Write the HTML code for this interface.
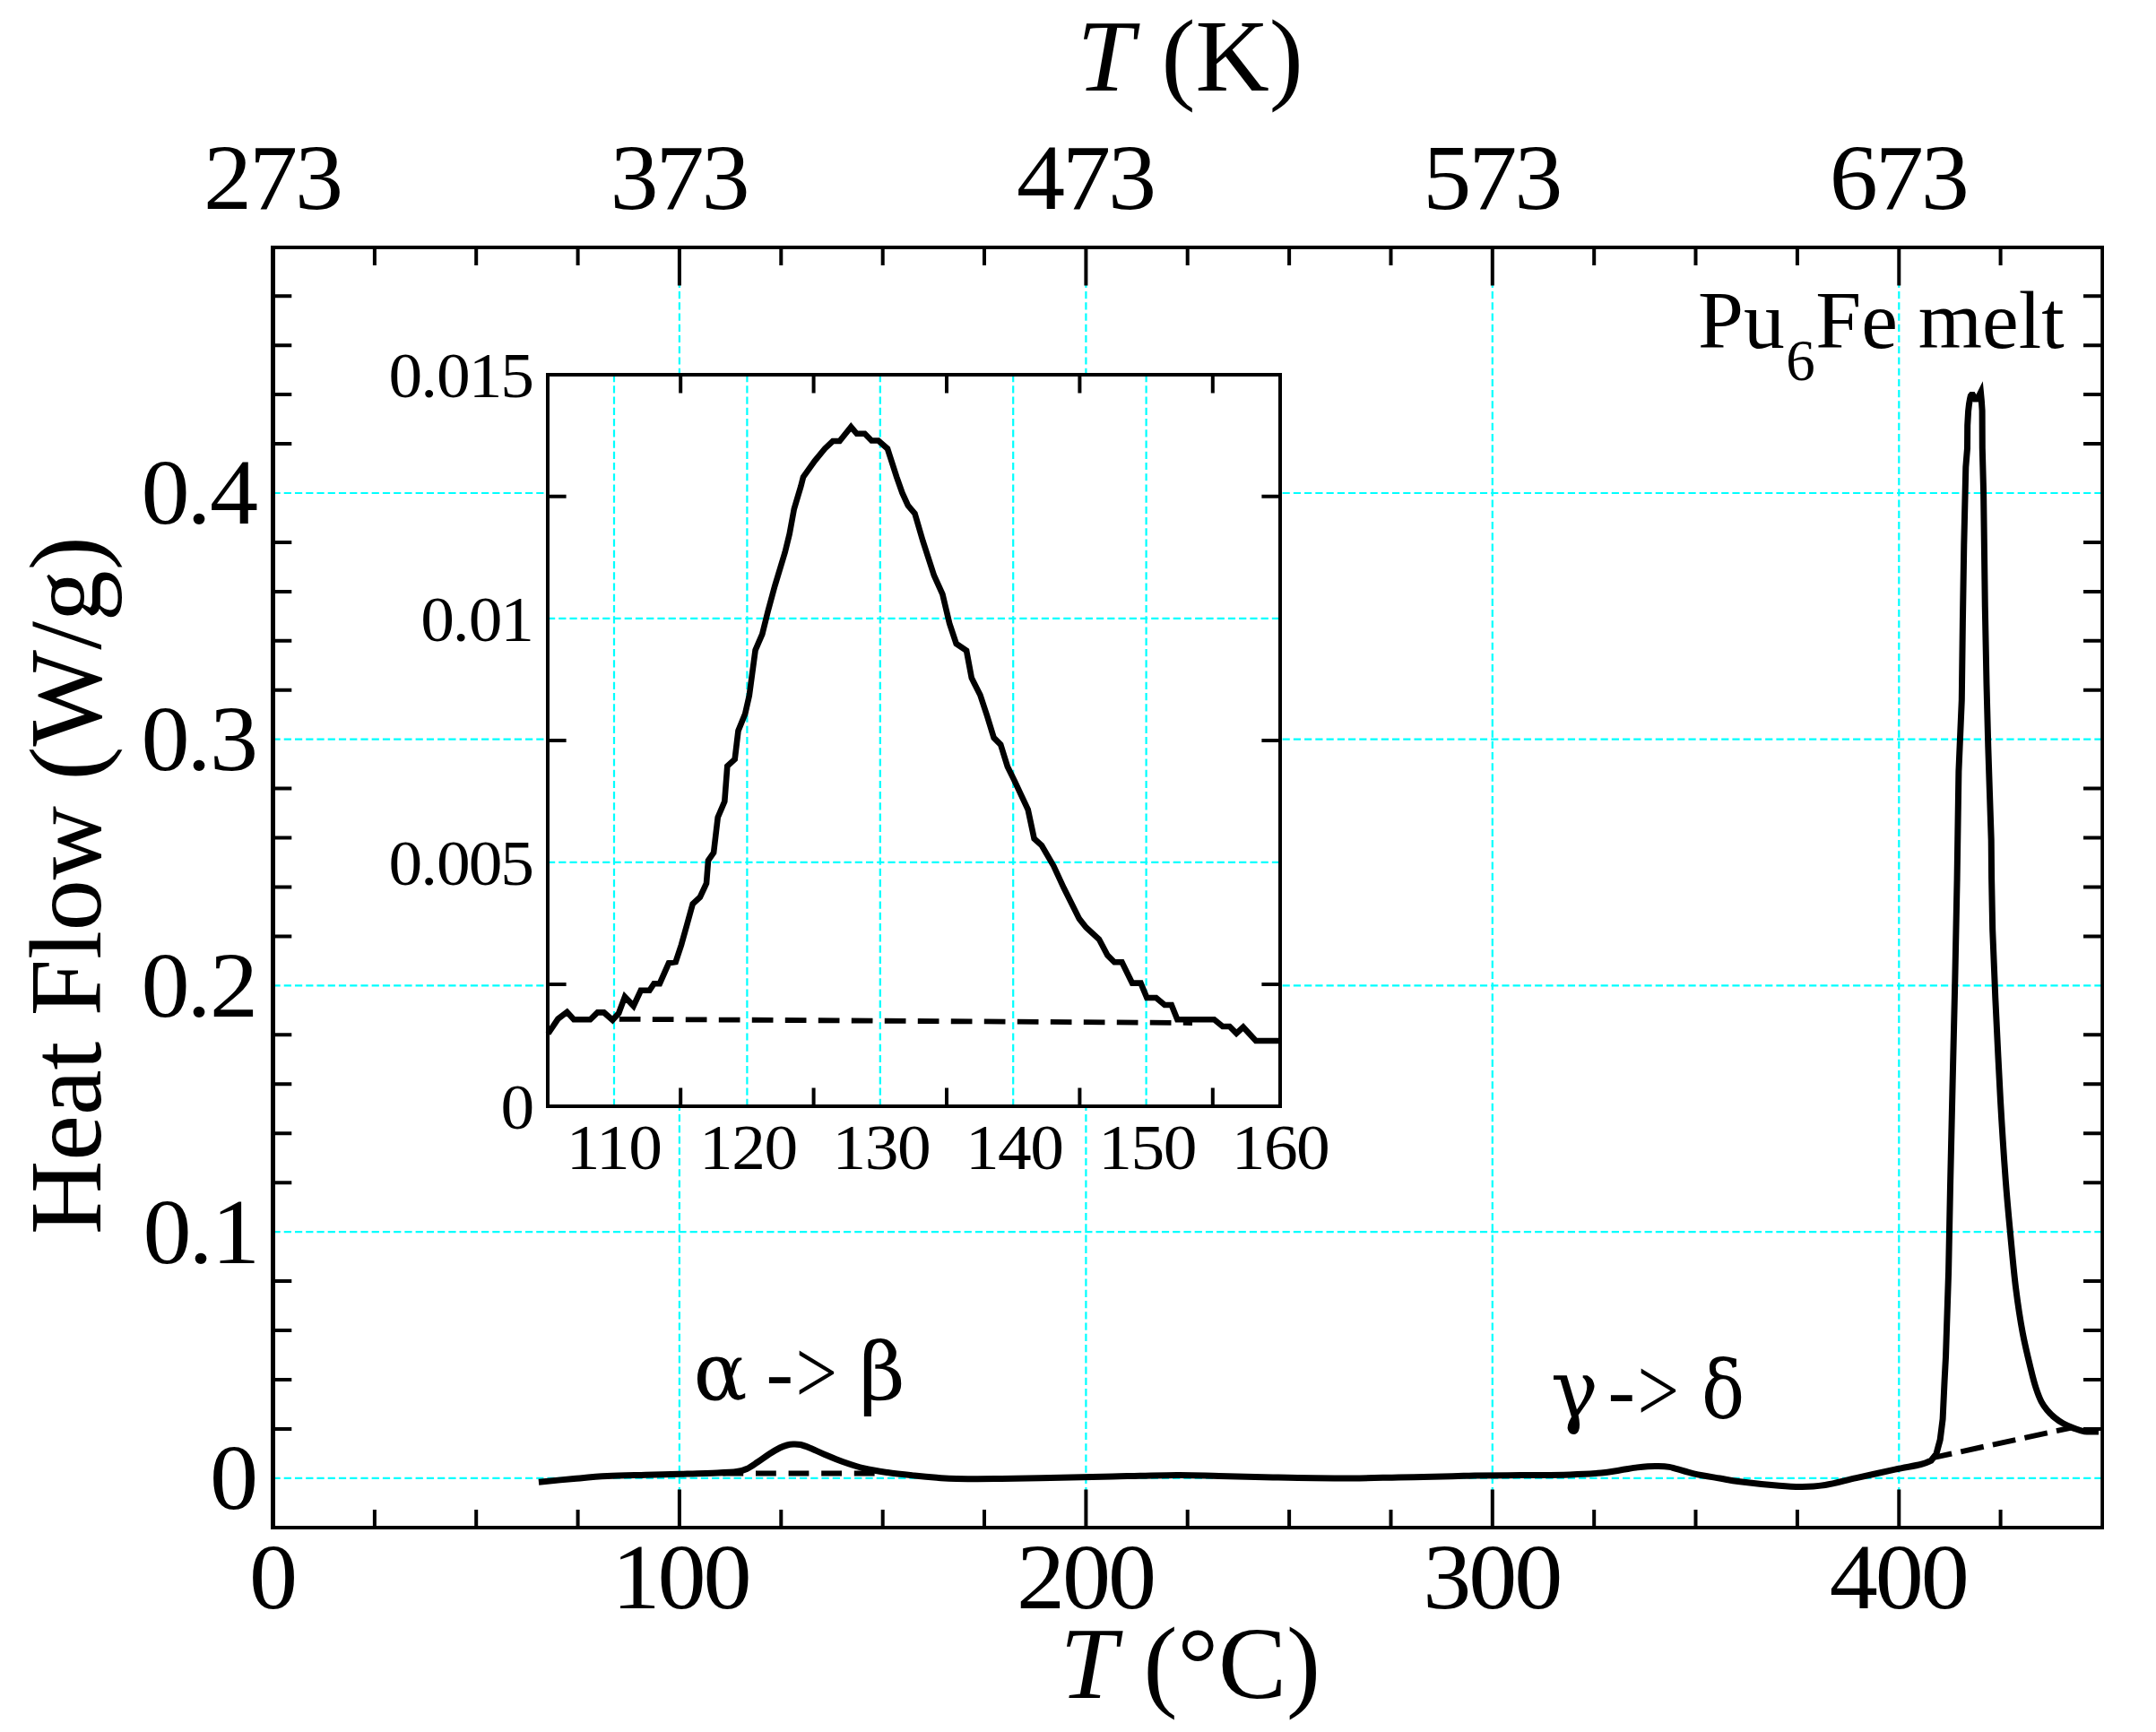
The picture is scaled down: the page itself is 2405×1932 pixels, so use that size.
<!DOCTYPE html>
<html lang="en"><head><meta charset="utf-8"><title>Heat Flow vs Temperature</title>
<style>
html,body{margin:0;padding:0;background:#fff;}
body{width:2405px;height:1932px;overflow:hidden;}
svg{display:block;}
text{font-family:"Liberation Serif","DejaVu Serif",serif;fill:#000;}
.tk{font-size:101px;}
.ax{font-size:114px;}
.in{font-size:71px;}
.an{font-size:91.6px;}
.gk{font-family:"DejaVu Serif","Liberation Serif",serif;font-size:89px;}
.g{stroke:#00ffff;stroke-width:2.2;stroke-dasharray:8.2 4.04;fill:none;}
.t{stroke:#000;stroke-width:4;fill:none;}
.f{stroke:#000;stroke-width:4.5;fill:none;}
.c{stroke:#000;fill:none;stroke-linejoin:miter;stroke-miterlimit:6;}
</style></head><body>
<svg width="2405" height="1932" viewBox="0 0 2405 1932">
<rect x="0" y="0" width="2405" height="1932" fill="#fff"/>
<path class="g" d="M757.9 276 V1704 M1211.4 276 V1704 M1664.8 276 V1704 M2118.3 276 V1704 M304.5 1648.8 H2345 M304.5 1374.1 H2345 M304.5 1099.4 H2345 M304.5 824.7 H2345 M304.5 550 H2345"/>
<path class="t" d="M417.9 1704 v-20 M417.9 276 v20 M531.2 1704 v-20 M531.2 276 v20 M644.6 1704 v-20 M644.6 276 v20 M757.9 1704 v-42.5 M757.9 276 v42.5 M871.3 1704 v-20 M871.3 276 v20 M984.7 1704 v-20 M984.7 276 v20 M1098 1704 v-20 M1098 276 v20 M1211.4 1704 v-42.5 M1211.4 276 v42.5 M1324.7 1704 v-20 M1324.7 276 v20 M1438.1 1704 v-20 M1438.1 276 v20 M1551.5 1704 v-20 M1551.5 276 v20 M1664.8 1704 v-42.5 M1664.8 276 v42.5 M1778.2 1704 v-20 M1778.2 276 v20 M1891.5 1704 v-20 M1891.5 276 v20 M2004.9 1704 v-20 M2004.9 276 v20 M2118.3 1704 v-42.5 M2118.3 276 v42.5 M2231.6 1704 v-20 M2231.6 276 v20 M304.5 1593.9 h20.8 M2345 1593.9 h-21 M304.5 1538.9 h20.8 M2345 1538.9 h-21 M304.5 1484 h20.8 M2345 1484 h-21 M304.5 1429 h20.8 M2345 1429 h-21 M304.5 1319.2 h20.8 M2345 1319.2 h-21 M304.5 1264.2 h20.8 M2345 1264.2 h-21 M304.5 1209.3 h20.8 M2345 1209.3 h-21 M304.5 1154.3 h20.8 M2345 1154.3 h-21 M304.5 1044.5 h20.8 M2345 1044.5 h-21 M304.5 989.5 h20.8 M2345 989.5 h-21 M304.5 934.6 h20.8 M2345 934.6 h-21 M304.5 879.6 h20.8 M2345 879.6 h-21 M304.5 769.8 h20.8 M2345 769.8 h-21 M304.5 714.8 h20.8 M2345 714.8 h-21 M304.5 659.9 h20.8 M2345 659.9 h-21 M304.5 604.9 h20.8 M2345 604.9 h-21 M304.5 495.1 h20.8 M2345 495.1 h-21 M304.5 440.1 h20.8 M2345 440.1 h-21 M304.5 385.2 h20.8 M2345 385.2 h-21 M304.5 330.2 h20.8 M2345 330.2 h-21"/>
<path class="c" stroke-width="7" d="M600.9 1653.2 C607.42 1652.58 627.25 1650.6 640 1649.5 C652.75 1648.4 664.07 1647.3 677.4 1646.6 C690.73 1645.9 706.57 1645.68 720 1645.3 C733.43 1644.92 744.67 1644.68 758 1644.3 C771.33 1643.92 789.33 1643.47 800 1643 C810.67 1642.53 816.5 1642.25 822 1641.5 C827.5 1640.75 829.17 1640.25 833 1638.5 C836.83 1636.75 840.83 1633.75 845 1631 C849.17 1628.25 853.83 1624.67 858 1622 C862.17 1619.33 866.67 1616.67 870 1615 C873.33 1613.33 875.53 1612.67 878 1612 C880.47 1611.33 882.3 1611.08 884.8 1611 C887.3 1610.92 889.97 1610.83 893 1611.5 C896.03 1612.17 898.5 1613.17 903 1615 C907.5 1616.83 913.83 1619.92 920 1622.5 C926.17 1625.08 932.67 1627.92 940 1630.5 C947.33 1633.08 955.67 1636 964 1638 C972.33 1640 980.67 1641.17 990 1642.5 C999.33 1643.83 1010.83 1645.03 1020 1646 C1029.17 1646.97 1037.17 1647.7 1045 1648.3 C1052.83 1648.9 1056.17 1649.38 1067 1649.6 C1077.83 1649.82 1094.5 1649.75 1110 1649.6 C1125.5 1649.45 1140 1649.1 1160 1648.7 C1180 1648.3 1204.5 1647.75 1230 1647.2 C1255.5 1646.65 1291.33 1645.52 1313 1645.4 C1334.67 1645.28 1342.17 1646.07 1360 1646.5 C1377.83 1646.93 1397.67 1647.58 1420 1648 C1442.33 1648.42 1470.67 1649 1494 1649 C1517.33 1649 1539 1648.37 1560 1648 C1581 1647.63 1605.83 1647.13 1620 1646.8 C1634.17 1646.47 1632.38 1646.2 1645 1646 C1657.62 1645.8 1677.98 1645.78 1695.7 1645.6 C1713.42 1645.42 1736.23 1645.32 1751.3 1644.9 C1766.37 1644.48 1776.82 1643.92 1786.1 1643.1 C1795.38 1642.28 1800.28 1641.03 1807 1640 C1813.72 1638.97 1821.23 1637.62 1826.4 1636.9 C1831.57 1636.18 1834.07 1635.93 1838 1635.7 C1841.93 1635.47 1846 1635.38 1850 1635.5 C1854 1635.62 1858.73 1635.93 1862 1636.4 C1865.27 1636.87 1864.85 1637.02 1869.6 1638.3 C1874.35 1639.58 1882.38 1642.32 1890.5 1644.1 C1898.62 1645.88 1909.88 1647.57 1918.3 1649 C1926.72 1650.43 1929.97 1651.32 1941 1652.7 C1952.03 1654.08 1972.93 1656.33 1984.5 1657.3 C1996.07 1658.27 2001.82 1658.63 2010.4 1658.5 C2018.98 1658.37 2025.95 1658.13 2036 1656.5 C2046.05 1654.87 2057.72 1651.58 2070.7 1648.7 C2083.68 1645.82 2101.92 1641.73 2113.9 1639.2 C2125.88 1636.67 2135.9 1635.17 2142.6 1633.5 C2149.3 1631.83 2152.18 1629.92 2154.1 1629.2 L2159.9 1622 L2164.2 1606 L2167.1 1583 L2169.1 1540 L2170.5 1513.7 L2173.6 1418.4 L2175.5 1323.1 L2178.1 1208.7 L2180.8 1094.4 L2183.1 980 L2184.9 860.7 L2188.3 781 L2189.4 694.4 L2190.8 607.8 L2192.8 521.2 L2194.5 500 L2194.7 474.5 L2195.6 458.6 L2196.5 450.8 L2197.5 445 L2198.3 441.6 L2199.2 440.5 L2200.6 440.5 L2203.2 444.9 L2206 444.9 L2209.5 437.8 L2210.3 446 L2211.1 458 L2211.3 500 L2212.6 549 L2214.3 677.1 L2216 763.7 L2217.8 833 L2219.5 885 L2221.2 936.9 L2221.6 980 L2222.7 1037.2 L2225.8 1113.4 C2226.75 1132.47 2229.6 1194.12 2231.5 1227.8 C2233.4 1261.48 2235.3 1290.08 2237.2 1315.5 C2239.1 1340.92 2240.98 1359.98 2242.9 1380.3 C2244.82 1400.62 2246.47 1419.62 2248.7 1437.4 C2250.93 1455.18 2253.45 1471.75 2256.3 1487 C2259.15 1502.25 2263.35 1518.73 2265.8 1528.9 C2268.25 1539.07 2269.12 1542.23 2271 1548 C2272.88 1553.77 2275 1559.33 2277.1 1563.5 C2279.2 1567.67 2281.13 1570.03 2283.6 1573 C2286.07 1575.97 2288.93 1578.83 2291.9 1581.3 C2294.87 1583.77 2297.85 1585.83 2301.4 1587.8 C2304.95 1589.77 2309.27 1591.62 2313.2 1593.1 C2317.13 1594.58 2320.37 1596.07 2325 1596.7 C2329.63 1597.33 2338.33 1596.87 2341 1596.9"/>
<path class="c" stroke-width="6.2" stroke-dasharray="22.8 13.8" d="M806.4 1643.5 L976 1643.5"/>
<path class="c" stroke-width="6" stroke-dasharray="26 10.4" stroke-dashoffset="5.4" d="M2157 1625.9 L2312 1592.2"/>
<path stroke="#000" fill="none" stroke-width="4" d="M302 276 H2347 M302 1704 H2347"/>
<path stroke="#000" fill="none" stroke-width="5" d="M304.5 274 V1706"/>
<path stroke="#000" fill="none" stroke-width="3.8" d="M2345.1 274 V1706"/>
<rect x="611" y="418" width="817" height="816" fill="#fff"/>
<path class="g" d="M685 418 V1234 M833.4 418 V1234 M981.8 418 V1234 M1130.2 418 V1234 M1278.6 418 V1234 M611 961.9 H1428 M611 689.8 H1428"/>
<path class="t" d="M759.2 1234 v-20.6 M759.2 418 v20.6 M907.6 1234 v-20.6 M907.6 418 v20.6 M1056 1234 v-20.6 M1056 418 v20.6 M1204.4 1234 v-20.6 M1204.4 418 v20.6 M1352.8 1234 v-20.6 M1352.8 418 v20.6 M611 1098 h20.6 M1428 1098 h-20.6 M611 825.9 h20.6 M1428 825.9 h-20.6 M611 553.8 h20.6 M1428 553.8 h-20.6"/>
<path class="c" stroke-width="6.6" d="M611.4 1153 L622.4 1136.6 L632.5 1128.9 L640.1 1137.3 L658.4 1137.3 L666.5 1129.4 L673.7 1129.4 L683.3 1137.8 L690.2 1130.2 L697 1111.9 L706.7 1122.1 L714.8 1104.8 L724.5 1104.8 L729.5 1097.2 L735.9 1097.2 L746 1074.3 L753.7 1073 L760 1054 L766.4 1031.1 L772.7 1008.3 L780.9 1000.7 L788 985.4 L790 960 L796.1 951.1 L800.7 911.8 L808.3 894 L811.3 854.6 L819.7 847 L823.5 815.2 L831.2 796.3 L835.8 776 L842.6 725.2 L850.3 707.4 L856.6 682 L864.2 654 L875.7 616 L880.7 595.6 L885.8 567.7 L893.4 542.3 L896 532.1 L908.7 514.3 L920.1 500.4 L929 492 L936.6 492 L949.3 476.2 L955.7 483.8 L964.6 483.8 L972.2 491.5 L979.8 491.5 L990 500.4 L1000.2 532.1 L1006.5 549.9 L1012.9 563.9 L1020.5 572.8 L1029.4 603.3 L1041.9 641.9 L1051.4 662.9 L1059.1 695.3 L1066.7 718.1 L1078.1 725.8 L1083.8 756.3 L1093.4 775.3 L1101 798.2 L1108.6 822.9 L1116.2 830.6 L1123.9 855.3 L1131.5 870.6 L1146.7 903 L1153.6 935.4 L1162 943 L1175.3 965.9 L1186.7 990.6 L1203.9 1024.9 L1211.5 1034.5 L1226 1047.8 L1235.5 1065.7 L1243.1 1073.3 L1251.5 1073.3 L1263 1096.6 L1272.5 1096.6 L1279.3 1113 L1289.6 1113 L1299.2 1121 L1306.8 1121 L1313.3 1137.3 L1354.4 1137.3 L1363.9 1145 L1371.6 1145 L1379.2 1152.6 L1386.8 1145.7 L1400.9 1161 L1428 1161"/>
<path class="c" stroke-width="5.8" stroke-dasharray="23.7 13.3" d="M690.8 1136.8 L1330 1141"/>
<rect class="t" x="611" y="418" width="817" height="816"/>
<text transform="translate(227 233) scale(1.04 1)" font-size="104" letter-spacing="-2.96">273</text>
<text transform="translate(680.4 233) scale(1.04 1)" font-size="104" letter-spacing="-2.96">373</text>
<text transform="translate(1133.9 233) scale(1.04 1)" font-size="104" letter-spacing="-2.96">473</text>
<text transform="translate(1587.3 233) scale(1.04 1)" font-size="104" letter-spacing="-2.96">573</text>
<text transform="translate(2040.8 233) scale(1.04 1)" font-size="104" letter-spacing="-2.96">673</text>
<text transform="translate(278 1793.9) scale(1.04 1)" font-size="104" letter-spacing="-2.96">0</text>
<text transform="translate(682.4 1793.9) scale(1.04 1)" font-size="104" letter-spacing="-2.96">100</text>
<text transform="translate(1133.9 1793.9) scale(1.04 1)" font-size="104" letter-spacing="-2.96">200</text>
<text transform="translate(1587.3 1793.9) scale(1.04 1)" font-size="104" letter-spacing="-2.96">300</text>
<text transform="translate(2040.8 1793.9) scale(1.04 1)" font-size="104" letter-spacing="-2.96">400</text>
<text transform="translate(234 1683.2) scale(1.04 1)" font-size="104" letter-spacing="-2.96">0</text>
<text transform="translate(159.5 1408.5) scale(1.04 1)" font-size="104" letter-spacing="-2.96">0<tspan letter-spacing="-1.48">.</tspan>1</text>
<text transform="translate(157.5 1133.8) scale(1.04 1)" font-size="104" letter-spacing="-2.96">0<tspan letter-spacing="-1.48">.</tspan>2</text>
<text transform="translate(157.5 859.1) scale(1.04 1)" font-size="104" letter-spacing="-2.96">0<tspan letter-spacing="-1.48">.</tspan>3</text>
<text transform="translate(157.5 584.4) scale(1.04 1)" font-size="104" letter-spacing="-2.96">0<tspan letter-spacing="-1.48">.</tspan>4</text>
<text class="ax" x="1201.6" y="101"><tspan font-style="italic">T</tspan><tspan dx="2"> (K)</tspan></text>
<text class="ax" x="1182.6" y="1893.7"><tspan font-style="italic">T</tspan><tspan dx="1"> (°C)</tspan></text>
<text class="ax" transform="translate(112 1377) rotate(-90)" x="0" y="0">Heat Flow (W/g)</text>
<text transform="translate(631.7 1303.5) scale(1.04 1)" font-size="72.5" letter-spacing="-1.44">110</text>
<text transform="translate(780.1 1303.5) scale(1.04 1)" font-size="72.5" letter-spacing="-1.44">120</text>
<text transform="translate(928.5 1303.5) scale(1.04 1)" font-size="72.5" letter-spacing="-1.44">130</text>
<text transform="translate(1076.9 1303.5) scale(1.04 1)" font-size="72.5" letter-spacing="-1.44">140</text>
<text transform="translate(1225.3 1303.5) scale(1.04 1)" font-size="72.5" letter-spacing="-1.44">150</text>
<text transform="translate(1373.7 1303.5) scale(1.04 1)" font-size="72.5" letter-spacing="-1.44">160</text>
<text transform="translate(558.4 1259) scale(1.04 1)" font-size="72.5" letter-spacing="-1.97">0</text>
<text transform="translate(433.6 986.9) scale(1.04 1)" font-size="72.5" letter-spacing="-1.97">0<tspan letter-spacing="-0.99">.</tspan>005</text>
<text transform="translate(469.2 714.8) scale(1.04 1)" font-size="72.5" letter-spacing="-1.97">0<tspan letter-spacing="-0.99">.</tspan>01</text>
<text transform="translate(433.6 442.7) scale(1.04 1)" font-size="72.5" letter-spacing="-1.97">0<tspan letter-spacing="-0.99">.</tspan>015</text>
<text class="an" y="1560.5"><tspan class="gk" x="773.4">α</tspan> <tspan x="854.6">-</tspan><tspan x="887.5" dy="4.9" font-size="102.2" textLength="46.6" lengthAdjust="spacingAndGlyphs">&gt;</tspan> <tspan class="gk" x="958.2" dy="-4.9">β</tspan></text>
<text class="an" y="1580.5"><tspan class="gk" x="1729.8">γ</tspan> <tspan x="1793.4">-</tspan><tspan x="1826.4" dy="4.9" font-size="102.2" textLength="46.6" lengthAdjust="spacingAndGlyphs">&gt;</tspan> <tspan class="gk" x="1897.9" dy="-4.9" textLength="48.2" lengthAdjust="spacingAndGlyphs">δ</tspan></text>
<text class="an" x="1894.1" y="387.9">Pu<tspan font-size="65" dy="35.8" dx="1.5">6</tspan><tspan dy="-35.8" dx="0.5">Fe melt</tspan></text>
</svg>
</body></html>
